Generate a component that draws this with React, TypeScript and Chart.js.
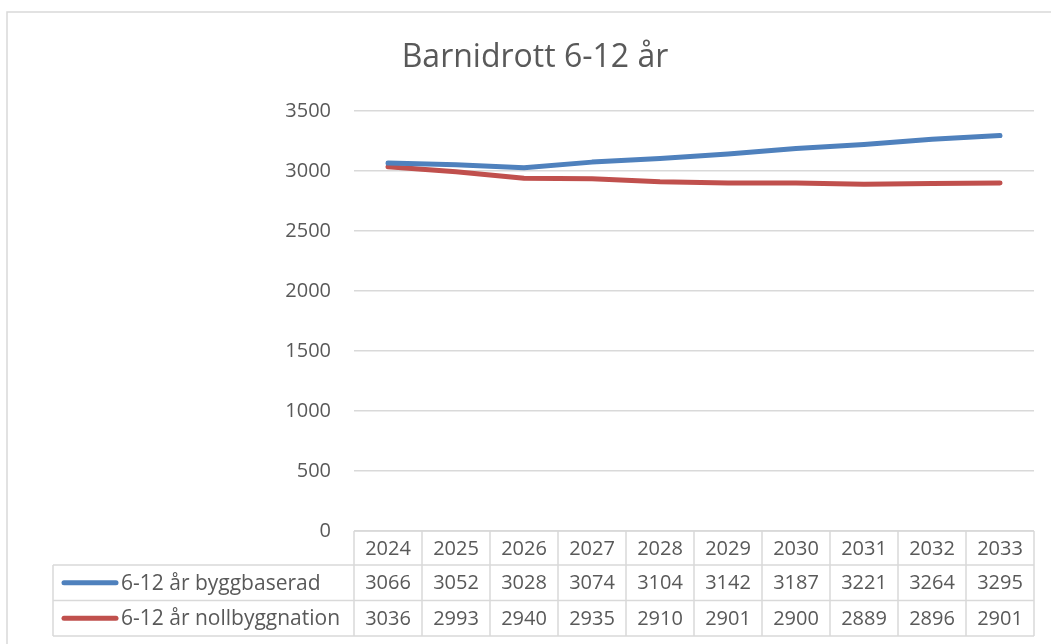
import React, { useEffect, useRef } from "react";
import { Chart, registerables } from "chart.js";

Chart.register(...registerables);

const title = "Barnidrott 6-12 år";
const years = ["2024", "2025", "2026", "2027", "2028", "2029", "2030", "2031", "2032", "2033"];
const seriesNames = ["6-12 år byggbaserad", "6-12 år nollbyggnation"];
const byggbaserad = [3066, 3052, 3028, 3074, 3104, 3142, 3187, 3221, 3264, 3295];
const nollbyggnation = [3036, 2993, 2940, 2935, 2910, 2901, 2900, 2889, 2896, 2901];
const seriesColors = ["#4f81bd", "#c0504d"];
const yTicks = [0, 500, 1000, 1500, 2000, 2500, 3000, 3500];

const FONT = "'Open Sans', 'DejaVu Sans', sans-serif";
const TEXT = "#595959";
const GRID = "#d9d9d9";

const W = 1051;
const H = 644;

const tablePlugin = {
  id: "excelTable",
  afterDraw(chart: any) {
    const ctx = chart.ctx;
    const area = chart.chartArea;
    const xs = chart.scales.x;
    const n = years.length;
    const colW = (area.right - area.left) / n;
    const top = area.bottom;
    const rowH = [34, 35.5, 35.5];
    const rowY = [top, top + rowH[0], top + rowH[0] + rowH[1], top + rowH[0] + rowH[1] + rowH[2]];
    const legendLeft = 53;

    ctx.save();
    // frame
    ctx.strokeStyle = GRID;
    ctx.lineWidth = 1.5;
    ctx.beginPath();
    ctx.moveTo(7, H);
    ctx.lineTo(7, 12);
    ctx.lineTo(W, 12);
    ctx.stroke();

    // title
    ctx.fillStyle = TEXT;
    ctx.font = `32px ${FONT}`;
    ctx.textAlign = "center";
    ctx.textBaseline = "middle";
    ctx.fillText(title, 535, 58);

    // table grid
    ctx.strokeStyle = GRID;
    ctx.lineWidth = 1.5;
    ctx.beginPath();
    ctx.moveTo(area.left, rowY[0]);
    ctx.lineTo(area.right, rowY[0]);
    for (let r = 1; r < 4; r++) {
      ctx.moveTo(legendLeft, rowY[r]);
      ctx.lineTo(area.right, rowY[r]);
    }
    ctx.moveTo(legendLeft, rowY[1]);
    ctx.lineTo(legendLeft, rowY[3]);
    for (let c = 0; c <= n; c++) {
      const x = area.left + c * colW;
      ctx.moveTo(x, rowY[0]);
      ctx.lineTo(x, rowY[3]);
    }
    ctx.stroke();

    // header text
    ctx.fillStyle = TEXT;
    ctx.font = `20px ${FONT}`;
    ctx.textAlign = "center";
    ctx.textBaseline = "middle";
    years.forEach((y, i) => {
      const cx = xs.getPixelForValue(i);
      ctx.fillText(y, cx, (rowY[0] + rowY[1]) / 2 + 1);
    });
    const data = [byggbaserad, nollbyggnation];
    data.forEach((arr, r) => {
      const cy = (rowY[r + 1] + rowY[r + 2]) / 2 + 1;
      ctx.font = `20px ${FONT}`;
      arr.forEach((v, i) => {
        const cx = xs.getPixelForValue(i);
        ctx.fillText(String(v), cx, cy);
      });
      // legend key
      ctx.strokeStyle = seriesColors[r];
      ctx.lineWidth = 5;
      ctx.lineCap = "round";
      ctx.beginPath();
      ctx.moveTo(64, cy - 1);
      ctx.lineTo(116, cy - 1);
      ctx.stroke();
      ctx.textAlign = "left";
      ctx.font = `21px ${FONT}`;
      ctx.fillText(seriesNames[r], 121, cy);
      ctx.textAlign = "center";
    });
    ctx.restore();
  },
};

export default function App() {
  const ref = useRef<HTMLCanvasElement | null>(null);
  useEffect(() => {
    if (!ref.current) return;
    const chart = new Chart(ref.current, {
      type: "line",
      data: {
        labels: years,
        datasets: [
          {
            label: seriesNames[0],
            data: byggbaserad,
            borderColor: seriesColors[0],
            backgroundColor: seriesColors[0],
            borderWidth: 5,
            pointRadius: 0,
            borderCapStyle: "round",
            borderJoinStyle: "round",
            tension: 0,
          },
          {
            label: seriesNames[1],
            data: nollbyggnation,
            borderColor: seriesColors[1],
            backgroundColor: seriesColors[1],
            borderWidth: 5,
            pointRadius: 0,
            borderCapStyle: "round",
            borderJoinStyle: "round",
            tension: 0,
          },
        ],
      },
      options: {
        responsive: false,
        animation: false,
        layout: { padding: { left: 0, right: 17, top: 111, bottom: 113 } },
        plugins: {
          legend: { display: false },
          title: { display: false },
          tooltip: { enabled: false },
        },
        scales: {
          x: {
            display: false,
            offset: true,
          },
          y: {
            min: 0,
            max: 3500,
            afterBuildTicks: (scale: any) => {
              scale.ticks = yTicks.map((v) => ({ value: v }));
            },
            afterFit: (scale: any) => {
              scale.width = 354;
            },
            grid: { color: GRID, lineWidth: 1.5, drawTicks: false },
            border: { display: false },
            ticks: {
              color: TEXT,
              font: { family: FONT, size: 20 },
              padding: 23,
              callback: (v: any) => String(v),
            },
          },
        },
      },
      plugins: [tablePlugin],
    });
    return () => chart.destroy();
  }, []);
  return (
    <div style={{ position: "absolute", left: 0, top: 0, width: W, height: H, background: "#fff" }}>
      <canvas ref={ref} width={W} height={H} style={{ width: W, height: H, display: "block" }} />
    </div>
  );
}
